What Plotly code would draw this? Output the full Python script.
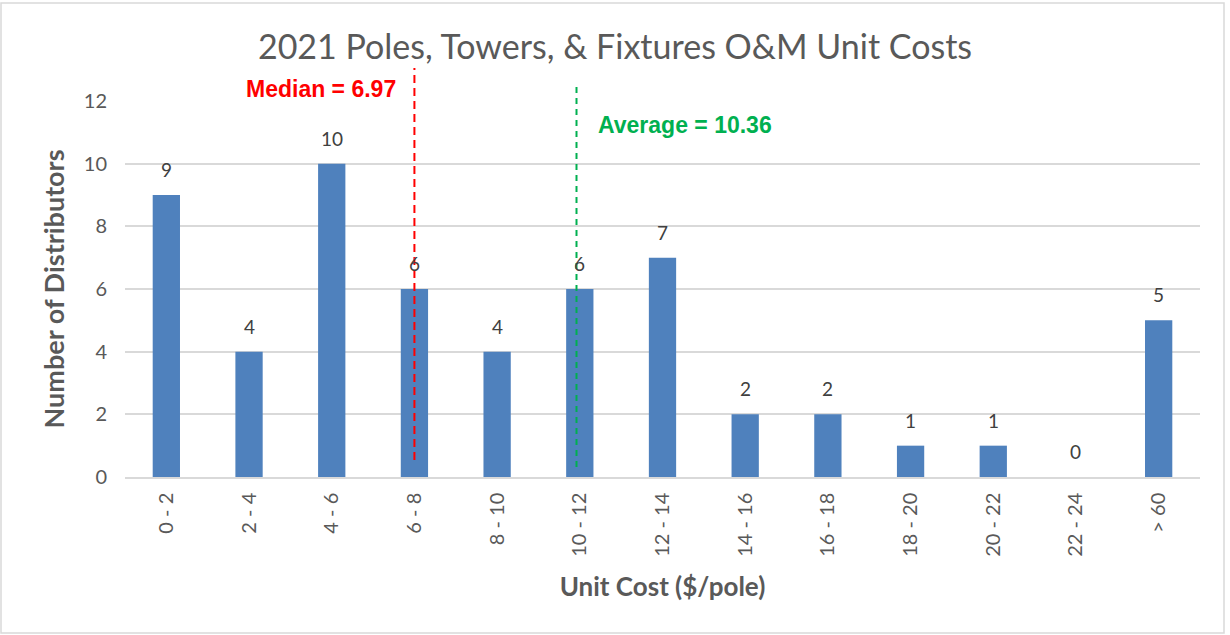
import plotly.graph_objects as go

categories = ["0 - 2", "2 - 4", "4 - 6", "6 - 8", "8 - 10", "10 - 12", "12 - 14",
              "14 - 16", "16 - 18", "18 - 20", "20 - 22", "22 - 24", "> 60"]
counts = [9, 4, 10, 6, 4, 6, 7, 2, 2, 1, 1, 0, 5]
y_ticks = [0, 2, 4, 6, 8, 10, 12]
median_value = 6.97
average_value = 10.36
median_pos = 3.0     # category-axis position of the median marker
average_pos = 4.96   # category-axis position of the average marker

W, H = 1230, 635
L, R, T, B = 125, 30, 101, 158
pw, ph = W - L - R, H - T - B

FONT = "Lato, Open Sans, sans-serif"
BOLD_FONT = "Liberation Sans Narrow, Arial Narrow, Liberation Sans, Arial, sans-serif"

def px_x(p):
    return (p - L) / pw

def px_y(p):
    return (H - B - p) / ph

fig = go.Figure()
fig.add_trace(go.Bar(
    x=list(range(len(categories))), y=counts,
    marker=dict(color="#4F81BD", line=dict(width=0)),
    width=0.33, hoverinfo="skip",
))

annotations = []
for i, v in enumerate(counts):
    annotations.append(dict(
        x=i, y=v, xref="x", yref="y", text=str(v), showarrow=False,
        yanchor="bottom", yshift=12,
        font=dict(family=FONT, size=19, color="#404040"),
    ))

annotations.append(dict(
    x=median_pos, y=px_y(89), xref="x", yref="paper", xanchor="right", yanchor="middle",
    xshift=-16, text=f"<b>Median = {median_value:.2f}</b>", showarrow=False,
    font=dict(family=BOLD_FONT, size=23, color="#FF0000"),
))
annotations.append(dict(
    x=average_pos, y=px_y(125), xref="x", yref="paper", xanchor="left", yanchor="middle",
    xshift=19, text=f"<b>Average = {average_value:.2f}</b>", showarrow=False,
    font=dict(family=BOLD_FONT, size=23, color="#00B050"),
))

shapes = [
    dict(type="line", xref="x", yref="paper", x0=median_pos, x1=median_pos,
         y0=px_y(460), y1=px_y(68), line=dict(color="#FF0000", width=2, dash="8px,5px")),
    dict(type="line", xref="x", yref="paper", x0=average_pos, x1=average_pos,
         y0=px_y(467), y1=px_y(82), line=dict(color="#00B050", width=2, dash="6px,5px")),
    dict(type="rect", xref="paper", yref="paper", x0=px_x(1), x1=px_x(1224),
         y0=px_y(633), y1=px_y(3), line=dict(color="#D9D9D9", width=1.5), layer="below"),
]

fig.update_layout(
    width=W, height=H,
    margin=dict(l=L, r=R, t=T, b=B, autoexpand=False),
    paper_bgcolor="white", plot_bgcolor="white",
    showlegend=False,
    title=dict(text="2021 Poles, Towers, &amp; Fixtures O&amp;M Unit Costs",
               x=0.5, xanchor="center", y=1 - 47 / H, yanchor="middle",
               font=dict(family=FONT, size=34, color="#595959")),
    xaxis=dict(
        tickmode="array", tickvals=list(range(len(categories))), ticktext=categories,
        range=[-0.5, len(categories) - 0.5], tickangle=-90,
        showgrid=False, zeroline=False, showline=True, linecolor="#D9D9D9", linewidth=1.5,
        ticks="", ticklabelstandoff=6,
        tickfont=dict(family=FONT, size=20, color="#595959"),
        title=dict(text="<b>Unit Cost ($/pole)</b>", standoff=22,
                   font=dict(family=FONT, size=26, color="#595959")),
    ),
    yaxis=dict(
        range=[0, 12], tickmode="array", tickvals=y_ticks,
        showgrid=True, gridcolor="#D9D9D9", gridwidth=1.5, zeroline=False,
        showline=False, ticks="", ticklabelstandoff=17,
        tickfont=dict(family=FONT, size=20, color="#595959"),
        title=dict(text="<b>Number of Distributors</b>", standoff=11,
                   font=dict(family=FONT, size=27, color="#595959")),
    ),
    shapes=shapes, annotations=annotations,
)

fig.write_html("out.html", config={"displayModeBar": False},
               post_script="document.body.style.margin='0';")
